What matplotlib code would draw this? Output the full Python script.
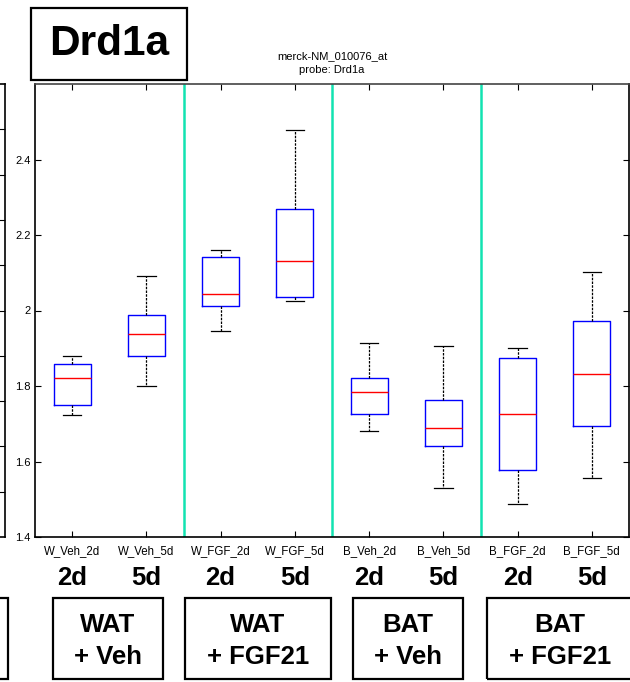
import matplotlib.pyplot as plt
from matplotlib.patches import Rectangle

plt.rcParams['font.family'] = ['Liberation Sans', 'DejaVu Sans']

# box statistics
labels = ['W_Veh_2d', 'W_Veh_5d', 'W_FGF_2d', 'W_FGF_5d',
          'B_Veh_2d', 'B_Veh_5d', 'B_FGF_2d', 'B_FGF_5d']
whislo = [1.722, 1.800, 1.945, 2.026, 1.680, 1.530, 1.488, 1.556]
q1 = [1.750, 1.880, 2.013, 2.037, 1.727, 1.642, 1.577, 1.694]
med = [1.822, 1.937, 2.045, 2.132, 1.784, 1.688, 1.727, 1.833]
q3 = [1.859, 1.988, 2.143, 2.270, 1.820, 1.763, 1.874, 1.973]
whishi = [1.880, 2.092, 2.161, 2.477, 1.915, 1.906, 1.900, 2.103]

days = ['2d', '5d', '2d', '5d', '2d', '5d', '2d', '5d']
groups = [('WAT\n+ Veh', 53, 163), ('WAT\n+ FGF21', 185, 331),
          ('BAT\n+ Veh', 353, 463), ('BAT\n+ FGF21', 487, 633)]
yticks = [1.4, 1.6, 1.8, 2.0, 2.2, 2.4]
ytick_labels = ['1.4', '1.6', '1.8', '2', '2.2', '2.4']

W, H = 630, 682
fig = plt.figure(figsize=(W / 100, H / 100), dpi=100)


def fx(px):
    return px / W


def fy(py):
    return 1 - py / H


ax = fig.add_axes([fx(35), fy(537), fx(629) - fx(35), fy(84) - fy(537)])

stats = []
for i in range(len(labels)):
    stats.append({'label': labels[i], 'whislo': whislo[i], 'q1': q1[i],
                  'med': med[i], 'q3': q3[i], 'whishi': whishi[i], 'fliers': []})
pos = list(range(1, len(labels) + 1))
ax.bxp(stats, positions=pos, widths=0.5, capwidths=0.25, showfliers=False,
       boxprops=dict(color='blue', linewidth=1.0),
       medianprops=dict(color='red', linewidth=1.0),
       whiskerprops=dict(color='black', linewidth=0.9, linestyle=(0, (2, 1))),
       capprops=dict(color='black', linewidth=0.9))

for xs in [2.5, 4.5, 6.5]:
    ax.axvline(xs, color='#12e3b1', linewidth=1.8)

ax.set_xlim(0.5, 8.5)
ax.set_ylim(1.4, 2.6)
ax.set_yticks(yticks)
ax.set_yticklabels(ytick_labels)
ax.set_xticks(pos)
ax.set_xticklabels(labels)
ax.tick_params(axis='both', direction='in', length=4, width=0.8, labelsize=8,
               top=True, right=True, colors='black')
ax.tick_params(axis='x', labelsize=8.3, pad=6)
ax.tick_params(axis='y', pad=3)
for sp in ax.spines.values():
    sp.set_linewidth(1.2)
ax.spines['top'].set_color('#444444')
ax.set_title('merck-NM_010076_at\nprobe: Drd1a', fontsize=8, pad=8, linespacing=1.5)

# neighbouring panel cut off at the left edge
ax0 = fig.add_axes([fx(-40), fy(537), fx(45), fy(84) - fy(537)])
ax0.set_xlim(0, 1)
ax0.set_ylim(0, 1)
ax0.set_xticks([])
ax0.set_yticks([0.1, 0.2, 0.3, 0.4, 0.5, 0.6, 0.7, 0.8, 0.9])
ax0.set_yticklabels([])
ax0.tick_params(axis='y', direction='in', length=4, left=False, right=True)
ax0.spines['left'].set_visible(False)
for sp in ['right', 'top', 'bottom']:
    ax0.spines[sp].set_linewidth(1.2)

# gene name box
fig.patches.append(Rectangle((fx(31), fy(80)), fx(187) - fx(31), fy(8) - fy(80),
                             transform=fig.transFigure, fill=False,
                             edgecolor='black', linewidth=1.6))
fig.text(fx(109), fy(44), 'Drd1a', fontsize=30.5, fontweight='bold',
         ha='center', va='center')

# day labels under each box
for i, d in enumerate(days):
    xp = ax.transData.transform((pos[i], 1.4))[0]
    fig.text(xp / W, fy(578), d, fontsize=18.5, fontweight='bold',
             ha='center', va='center')

# group boxes
for text, x0, x1 in groups:
    fig.patches.append(Rectangle((fx(x0), fy(679)), fx(x1) - fx(x0), fy(598) - fy(679),
                                 transform=fig.transFigure, fill=False,
                                 edgecolor='black', linewidth=1.6))
    fig.text(fx((x0 + x1) / 2), fy(641), text, fontsize=18.5, fontweight='bold',
             ha='center', va='center', linespacing=1.4)
fig.patches.append(Rectangle((fx(-60), fy(679)), fx(68), fy(598) - fy(679),
                             transform=fig.transFigure, fill=False,
                             edgecolor='black', linewidth=1.6))

fig.savefig('out.png', dpi=100)
